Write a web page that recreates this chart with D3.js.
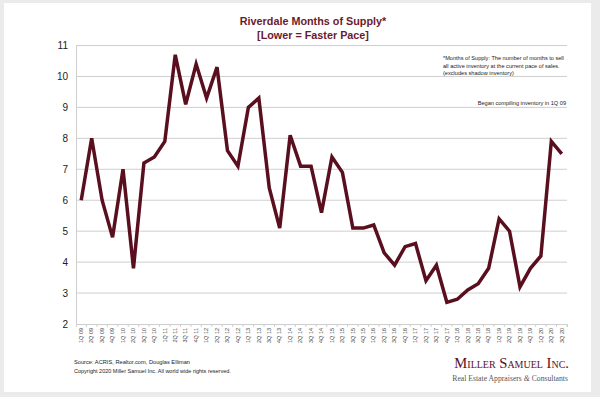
<!DOCTYPE html>
<html><head><meta charset="utf-8">
<script src="https://cdn.jsdelivr.net/npm/d3@7"></script>
<style>body{margin:0;background:#ebebeb;}svg{display:block;}</style>
</head><body>
<script>
const quarters = ["1Q 09","2Q 09","3Q 09","4Q 09","1Q 10","2Q 10","3Q 10","4Q 10","1Q 11","2Q 11","3Q 11","4Q 11","1Q 12","2Q 12","3Q 12","4Q 12","1Q 13","2Q 13","3Q 13","4Q 13","1Q 14","2Q 14","3Q 14","4Q 14","1Q 15","2Q 15","3Q 15","4Q 15","1Q 16","2Q 16","3Q 16","4Q 16","1Q 17","2Q 17","3Q 17","4Q 17","1Q 18","2Q 18","3Q 18","4Q 18","1Q 19","2Q 19","3Q 19","4Q 19","1Q 20","2Q 20","3Q 20"];
const monthsOfSupply = [6.0,8.0,6.0,4.8,7.0,3.8,7.2,7.4,7.9,10.7,9.1,10.4,9.3,10.3,7.6,7.1,9.0,9.3,6.4,5.1,8.1,7.1,7.1,5.6,7.4,6.9,5.1,5.1,5.2,4.3,3.9,4.5,4.6,3.4,3.9,2.7,2.8,3.1,3.3,3.8,5.4,5.0,3.2,3.8,4.2,7.9,7.5];
const yTicks = [2,3,4,5,6,7,8,9,10,11];

const W=600,H=397;
const svg=d3.select("body").append("svg").attr("width",W).attr("height",H);
svg.append("rect").attr("x",0).attr("y",0).attr("width",W).attr("height",H).attr("fill","#ebebeb");
svg.append("rect").attr("x",4).attr("y",3).attr("width",587).attr("height",389).attr("fill","#ffffff");

const L=76,R=567,T=45.5,B=324;
const x=d3.scaleBand().domain(quarters).range([L,R]);
const y=d3.scaleLinear().domain([2,11]).range([B,T]);

// gridlines
svg.append("g").selectAll("line").data(yTicks.filter(d=>d>2)).join("line")
  .attr("x1",L).attr("x2",R).attr("y1",d=>y(d)).attr("y2",d=>y(d))
  .attr("stroke","#cfcfcf").attr("stroke-width",1);

// y axis
const ya=svg.append("g").attr("transform",`translate(${L},0)`)
  .call(d3.axisLeft(y).tickValues(yTicks).tickSize(0).tickPadding(8).tickFormat(d3.format("d")));
ya.select(".domain").attr("stroke","#cfcfcf");
ya.selectAll("text").attr("font-family","Liberation Sans, Arial, sans-serif").attr("font-size",10).attr("fill","#222");

// x axis
const xa=svg.append("g").attr("transform",`translate(0,${B})`)
  .call(d3.axisBottom(x).tickSize(3).tickPadding(2));
xa.select(".domain").attr("stroke","#cfcfcf");
xa.selectAll(".tick line").attr("stroke","#cfcfcf").attr("transform",`translate(${x.bandwidth()/2},0)`);
xa.selectAll("text").attr("font-family","Liberation Sans, Arial, sans-serif").attr("font-size",5.5).attr("fill","#444")
  .attr("transform","rotate(-90)").attr("text-anchor","end").attr("dy","0.32em").attr("x",-4).attr("y",0);

// line
const line=d3.line().x((d,i)=>x(quarters[i])+x.bandwidth()/2).y(d=>y(d));
svg.append("path").datum(monthsOfSupply).attr("d",line).attr("fill","none")
  .attr("stroke","#5a0f1f").attr("stroke-width",3.5).attr("stroke-linejoin","miter");

// title
const tf="Liberation Sans, Arial, sans-serif";
svg.append("text").attr("x",313).attr("y",25).attr("text-anchor","middle").attr("font-family",tf)
  .attr("font-weight","bold").attr("font-size",10.8).attr("fill","#6b1a2e").text("Riverdale Months of Supply*");
svg.append("text").attr("x",313).attr("y",39).attr("text-anchor","middle").attr("font-family",tf)
  .attr("font-weight","bold").attr("font-size",10.8).attr("fill","#6b1a2e").text("[Lower = Faster Pace]");

// notes
const notes=["*Months of Supply: The number of months to sell","all active inventory at the current pace of sales.","(excludes shadow inventory)"];
svg.append("g").selectAll("text").data(notes).join("text").attr("x",443).attr("y",(d,i)=>60+i*7.5)
  .attr("font-family",tf).attr("font-size",5.6).attr("fill","#222").text(d=>d);
svg.append("text").attr("x",566).attr("y",105).attr("text-anchor","end").attr("font-family",tf)
  .attr("font-size",5.6).attr("fill","#222").text("Began compiling inventory in 1Q 09");

// footer
svg.append("text").attr("x",74).attr("y",364).attr("font-family",tf).attr("font-size",5.7).attr("fill","#222")
  .text("Source: ACRIS, Realtor.com, Douglas Elliman");
svg.append("text").attr("x",74).attr("y",373).attr("font-family",tf).attr("font-size",5.5).attr("fill","#222")
  .text("Copyright 2020 Miller Samuel Inc. All world wide rights reserved.");

// logo
const sf="Liberation Serif, Times New Roman, serif";
svg.append("text").attr("x",569).attr("y",368).attr("text-anchor","end").attr("font-family",sf)
  .attr("font-size",14.6).attr("fill","#5a0f1f").attr("font-variant","small-caps").text("Miller Samuel Inc.");
const tag=svg.append("text").attr("x",568).attr("y",381).attr("text-anchor","end").attr("font-family",sf)
  .attr("font-size",7.7).attr("fill","#555");
tag.append("tspan").text("Real Estate Appraisers ");
tag.append("tspan").attr("font-style","italic").text("&");
tag.append("tspan").text(" Consultants");
</script>
</body></html>
